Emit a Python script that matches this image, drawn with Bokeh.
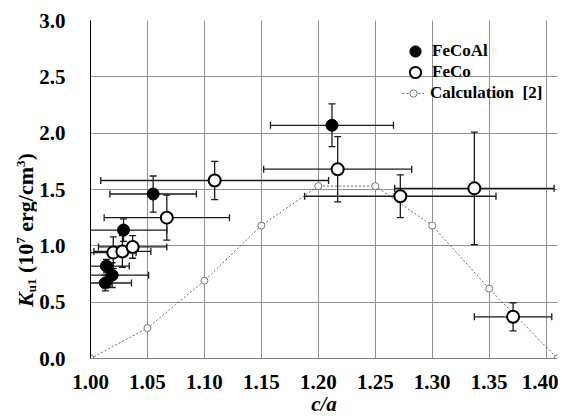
import numpy as np
from bokeh.plotting import figure
from bokeh.layouts import row
from bokeh.models import Range1d, FixedTicker, Legend, LegendItem, Div
from bokeh.embed import file_html
from bokeh.resources import INLINE

# ---------------- data ----------------
fecoal_x = [1.013, 1.019, 1.014, 1.029, 1.055, 1.212]
fecoal_y = [0.67, 0.74, 0.82, 1.14, 1.46, 2.07]
fecoal_xerr = [0.023, 0.032, 0.020, 0.038, 0.038, 0.054]
fecoal_yerr = [0.07, 0.11, 0.06, 0.10, 0.16, 0.19]

feco_x = [1.020, 1.028, 1.037, 1.067, 1.109, 1.217, 1.272, 1.337, 1.371]
feco_y = [0.94, 0.95, 0.99, 1.25, 1.58, 1.68, 1.44, 1.51, 0.37]
feco_xerr = [0.020, 0.025, 0.030, 0.055, 0.100, 0.065, 0.084, 0.070, 0.034]
feco_yerr = [0.14, 0.14, 0.10, 0.20, 0.17, 0.29, 0.19, 0.50, 0.125]

calc_x = [1.00, 1.05, 1.10, 1.15, 1.20, 1.25, 1.30, 1.35, 1.41]
calc_y = [0.00, 0.27, 0.69, 1.18, 1.53, 1.53, 1.18, 0.62, 0.00]

x_ticks = [1.00, 1.05, 1.10, 1.15, 1.20, 1.25, 1.30, 1.35, 1.40]
x_tick_labels = ["1.00", "1.05", "1.10", "1.15", "1.20", "1.25", "1.30", "1.35", "1.40"]
y_ticks = [0.0, 0.5, 1.0, 1.5, 2.0, 2.5, 3.0]
y_tick_labels = ["0.0", "0.5", "1.0", "1.5", "2.0", "2.5", "3.0"]

series_names = ["FeCoAl", "FeCo", "Calculation  [2]"]
x_title = "c/a"

# ---------------- layout (pixels of the whole row) ----------------
X0, X1 = 1.0, 1.41
Y0, Y1 = 0.0, 3.0
H = 418
SW = 36                          # width of the strip holding the y title
TOTAL_W = 558
W = TOTAL_W - SW                 # main figure width
FL, FR, FT, FB = 90, 557, 20, 358  # frame edges
FONT = "Liberation Serif"

p = figure(width=W, height=H, x_range=Range1d(X0, X1), y_range=Range1d(Y0, Y1),
           output_backend="svg", toolbar_location=None,
           min_border_left=FL - SW, min_border_right=TOTAL_W - FR,
           min_border_top=FT, min_border_bottom=H - FB)
p.outline_line_color = None
p.background_fill_color = "white"
p.border_fill_color = "white"

p.xaxis.ticker = FixedTicker(ticks=x_ticks)
p.yaxis.ticker = FixedTicker(ticks=y_ticks)
p.xaxis.major_label_overrides = dict(zip(x_ticks, x_tick_labels))
p.yaxis.major_label_overrides = dict(zip(y_ticks, y_tick_labels))
for ax in (p.xaxis, p.yaxis):
    ax.major_tick_line_color = None
    ax.minor_tick_line_color = None
    ax.major_tick_out = 0
    ax.major_tick_in = 0
    ax.major_label_text_font = FONT
    ax.major_label_text_font_style = "bold"
    ax.major_label_text_font_size = "21px"
    ax.major_label_text_color = "black"
p.yaxis.axis_line_color = "black"
p.yaxis.axis_line_width = 1
p.xaxis.axis_line_color = "#808080"
p.xaxis.axis_line_width = 1
p.yaxis.major_label_standoff = 25
p.xaxis.major_label_standoff = 16

p.xaxis.axis_label = x_title
p.xaxis.axis_label_text_font = FONT
p.xaxis.axis_label_text_font_style = "bold italic"
p.xaxis.axis_label_text_font_size = "21px"
p.xaxis.axis_label_text_color = "black"
p.xaxis.axis_label_standoff = 0

p.xgrid.grid_line_color = "#8f8f8f"
p.ygrid.grid_line_color = "#8f8f8f"
p.xgrid.grid_line_width = 1
p.ygrid.grid_line_width = 1

# ---------------- calculation curve ----------------
r_cl = p.line(calc_x, calc_y, line_color="#666666", line_width=1, line_dash="2 2")
r_cs = p.scatter(calc_x, calc_y, size=7, marker="circle", fill_color="white",
                 line_color="#777777", line_width=1)


# ---------------- error bars ----------------
def errbars(x, y, xe, ye, color):
    x = np.asarray(x); y = np.asarray(y); xe = np.asarray(xe); ye = np.asarray(ye)
    p.segment(x - xe, y, x + xe, y, line_color=color, line_width=1.3)
    p.segment(x, y - ye, x, y + ye, line_color=color, line_width=1.3)
    p.scatter(np.r_[x - xe, x + xe], np.r_[y, y], marker="dash", angle=np.pi / 2,
              size=7, line_color=color, line_width=1.3)
    p.scatter(np.r_[x, x], np.r_[y - ye, y + ye], marker="dash",
              size=7, line_color=color, line_width=1.3)


errbars(feco_x, feco_y, feco_xerr, feco_yerr, "#1a1a1a")
errbars(fecoal_x, fecoal_y, fecoal_xerr, fecoal_yerr, "#1a1a1a")

r_co = p.scatter(feco_x, feco_y, size=12, marker="circle", fill_color="white",
                 line_color="black", line_width=2)
r_al = p.scatter(fecoal_x, fecoal_y, size=12, marker="circle", fill_color="black",
                 line_color="black", line_width=1)


# ---------------- legend (one entry per legend box) ----------------
def add_legend(name, rends, gx_left, gy_center, gw, gh, standoff):
    lg = Legend(items=[LegendItem(label=name, renderers=rends)],
                location=(gx_left - FL, FB - (gy_center + gh / 2)),
                glyph_width=gw, glyph_height=gh, label_height=gh,
                spacing=0, padding=0, margin=0, label_standoff=standoff,
                border_line_color=None, background_fill_alpha=0,
                label_text_font=FONT, label_text_font_style="bold",
                label_text_font_size="17px", label_text_color="black")
    p.add_layout(lg)


add_legend(series_names[0], [r_al], 401, 51, 28, 30, 3)
add_legend(series_names[1], [r_co], 401, 72, 28, 30, 3)
add_legend(series_names[2], [r_cl, r_cs], 402, 94, 22, 18, 6)

# ---------------- y title strip (rotated HTML text) ----------------
Y_TITLE_START = 307   # lower end of the title, px
Y_TITLE_LEFT = 15     # left edge of rotated line box, px
sub_css = "font-size:13px;line-height:0;vertical-align:-3px;"
sup_css = "font-size:13px;line-height:0;vertical-align:8px;"
y_title_html = (
    f'<div style="position:relative;width:{SW}px;height:{H}px;overflow:visible;">'
    f'<div style="position:absolute;left:{Y_TITLE_LEFT}px;top:{Y_TITLE_START}px;'
    'transform:rotate(-90deg);transform-origin:0 0;white-space:nowrap;'
    "font-family:'Liberation Serif';font-weight:bold;font-size:22px;line-height:22px;"
    'color:black;">'
    f'<i>K</i><span style="{sub_css}">u1</span> (10<span style="{sup_css}">7</span>'
    f' erg/cm<span style="{sup_css}">3</span>)'
    '</div></div>')
yl = Div(text=y_title_html, width=SW, height=H, margin=0)

layout = row(yl, p, spacing=0)
open("out.html", "w").write(file_html(layout, INLINE))
